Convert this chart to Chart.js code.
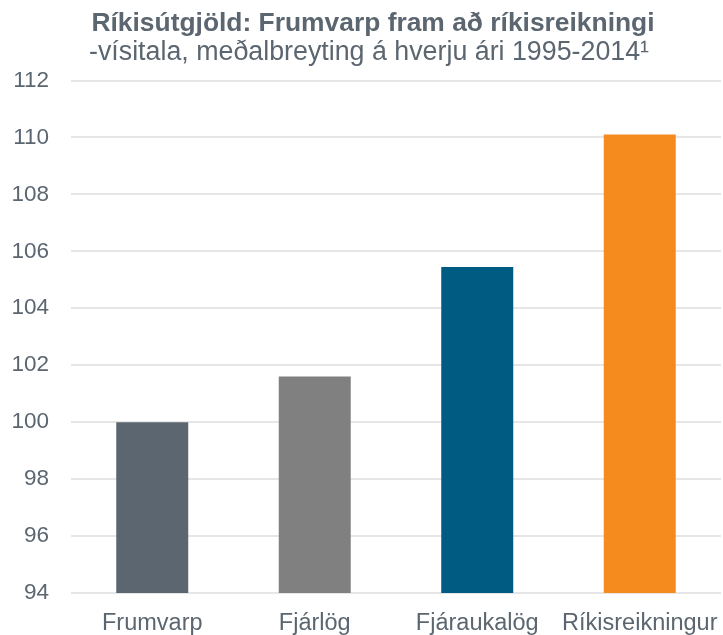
<!DOCTYPE html>
<html>
<head>
<meta charset="utf-8">
<script src="https://cdn.jsdelivr.net/npm/chart.js@4.4.1/dist/chart.umd.min.js"></script>
<style>
  html, body { margin: 0; padding: 0; background: #fff; }
  #wrap { width: 723px; height: 635px; }
</style>
</head>
<body>
<div id="wrap"><canvas id="chart" width="723" height="635"></canvas></div>
<script>
// Data
const categories = ["Frumvarp", "Fjárlög", "Fjáraukalög", "Ríkisreikningur"];
const values = [100.0, 101.6, 105.45, 110.1];
const barColors = ["#5b6670", "#808080", "#005b82", "#f58b1f"];
const yTicks = [94, 96, 98, 100, 102, 104, 106, 108, 110, 112];

const titleText = "Ríkisútgjöld: Frumvarp fram að ríkisreikningi";
const subtitleText = "-vísitala, meðalbreyting á hverju ári 1995-2014¹";

const textColor = "#5b6670";
const fontFamily = "'Liberation Sans', Arial, sans-serif";

// nudge the title lines a bit right, like the original
const shiftTitles = {
  id: "shiftTitles",
  afterLayout(c) {
    c.boxes.forEach(b => {
      if (!b.options || b.options.text === undefined) return;
      const dx = b.options.text === titleText ? 7 : 3;
      b.left += dx;
      b.right += dx;
    });
  }
};

let ctx = document.getElementById("chart").getContext("2d");
let chart = new Chart(ctx, {
  type: "bar",
  data: {
    labels: categories,
    datasets: [{
      data: values,
      backgroundColor: barColors,
      borderWidth: 0,
      categoryPercentage: 1,
      barPercentage: 0.443
    }]
  },
  options: {
    responsive: false,
    animation: false,
    layout: { padding: { left: 11, right: 2, top: 9, bottom: 0 } },
    plugins: {
      legend: { display: false },
      tooltip: { enabled: false },
      title: {
        display: true,
        text: titleText,
        color: textColor,
        font: { family: fontFamily, size: 26.4, weight: "bold", lineHeight: 1.1 },
        padding: { top: 0, bottom: 0 }
      },
      subtitle: {
        display: true,
        text: subtitleText,
        color: textColor,
        font: { family: fontFamily, size: 26.8, lineHeight: 1.1 },
        padding: { top: 0, bottom: 13 }
      }
    },
    scales: {
      x: {
        afterFit: axis => {
          axis.height = 42;
          axis.paddingLeft = 0;
          axis.paddingRight = 0;
        },
        grid: { display: false, drawTicks: false },
        border: { display: false },
        ticks: {
          color: textColor,
          font: { family: fontFamily, size: 23.5 },
          padding: 16,
          maxRotation: 0,
          autoSkip: false
        }
      },
      y: {
        min: 94,
        max: 112,
        afterBuildTicks: axis => { axis.ticks = yTicks.map(v => ({ value: v })); },
        afterFit: axis => {
          axis.width = 60;
          axis.paddingTop = 0;
          axis.paddingBottom = 0;
        },
        grid: { color: "#e6e6e6", lineWidth: 2, drawTicks: false },
        border: { display: false },
        ticks: {
          color: textColor,
          font: { family: fontFamily, size: 22.5 },
          padding: 22
        }
      }
    }
  },
  plugins: [shiftTitles]
});
</script>
</body>
</html>
